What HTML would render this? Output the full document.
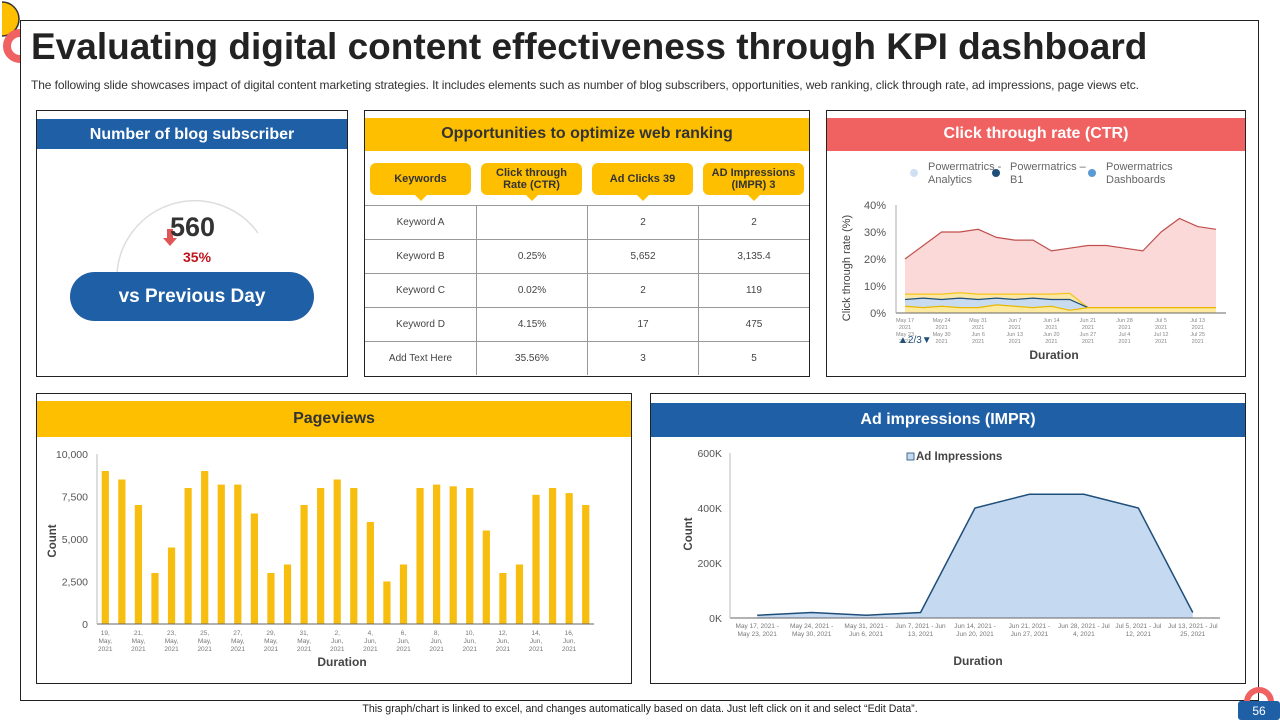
<!DOCTYPE html>
<html><head><meta charset="utf-8"><style>
*{box-sizing:border-box;margin:0;padding:0}
body{width:1280px;height:720px;overflow:hidden;background:#fff;font-family:"Liberation Sans",sans-serif;position:relative;color:#333}
.abs{position:absolute}
.panel{position:absolute;border:1px solid #222;background:#fff}
.hdr{position:absolute;left:0;right:0;height:32px;color:#fff;font-weight:bold;font-size:16px;text-align:center;line-height:32px}
.yel{background:#fdbf00;color:#333}
.blue{background:#1f5fa6}
.red{background:#f06262}
</style></head><body>
<div class="abs" style="left:20px;top:20px;width:1239px;height:681px;border:1px solid #222"></div>
<svg class="abs" style="left:0;top:0" width="40" height="70">
<path d="M0,2 A17,17 0 0 1 0,36 Z" fill="#fdbf00" transform="translate(2,0)"/>
<path d="M0,2 A17,17 0 0 1 0,36" fill="none" stroke="#333" stroke-width="1.5" transform="translate(2,0)"/>
<path d="M20,33 A13,13 0 0 0 20,59" fill="none" stroke="#f06262" stroke-width="8"/>
</svg>
<div class="abs" style="left:31px;top:26px;font-size:37px;font-weight:bold;color:#222;white-space:nowrap">Evaluating digital content effectiveness through KPI dashboard</div>
<div class="abs" style="left:31px;top:78px;font-size:12px;color:#333;white-space:nowrap;letter-spacing:-0.1px">The following slide showcases impact of digital content marketing strategies. It includes elements such as number of blog subscribers, opportunities, web ranking, click through rate, ad impressions, page views etc.</div>

<!-- Blog subscriber -->
<div class="panel" style="left:36px;top:110px;width:312px;height:267px">
<div class="hdr blue" style="top:8px;height:32px;border-bottom:2px solid #fff">Number of blog subscriber</div>
<svg class="abs" style="left:0;top:0" width="310" height="265">
<path d="M80,162 A78,78 0 0 1 221,122" fill="none" stroke="#ddd" stroke-width="1.5"/>
<path d="M130,127 v-9 h6 v9 h4 l-7,8 l-7,-8z" fill="#e05555"/>
</svg>
<div class="abs" style="left:133px;top:101px;font-size:27px;font-weight:bold;color:#333">560</div>
<div class="abs" style="left:146px;top:138px;font-size:14px;font-weight:bold;color:#c0141c">35%</div>
<div class="abs" style="left:33px;top:161px;width:244px;height:49px;border-radius:25px;background:#1f5fa6;color:#fff;font-size:19px;font-weight:bold;text-align:center;line-height:49px">vs Previous Day</div>
</div>

<!-- Opportunities table -->
<div class="panel" style="left:364px;top:110px;width:446px;height:267px">
<div class="hdr yel" style="top:7px;height:33px">Opportunities to optimize web ranking</div>
<div id="tbl"></div>
</div>

<!-- CTR -->
<div class="panel" style="left:826px;top:110px;width:420px;height:267px">
<div class="hdr red" style="top:7px;height:33px">Click through rate (CTR)</div>
<svg id="ctr" class="abs" style="left:-1px;top:-1px" width="420" height="267"></svg>
</div>

<!-- Pageviews -->
<div class="panel" style="left:36px;top:393px;width:596px;height:291px">
<div class="hdr yel" style="top:7px;height:36px;line-height:36px">Pageviews</div>
<svg id="pv" class="abs" style="left:-1px;top:-1px" width="596" height="291"></svg>
</div>

<!-- Ad impressions -->
<div class="panel" style="left:650px;top:393px;width:596px;height:291px">
<div class="hdr blue" style="top:9px;height:34px;line-height:34px">Ad impressions (IMPR)</div>
<svg id="ad" class="abs" style="left:-1px;top:-1px" width="596" height="291"></svg>
</div>

<div class="abs" style="left:0;width:1280px;top:703px;text-align:center;font-size:10.6px;color:#222">This graph/chart is linked to excel, and changes automatically based on data. Just left click on it and select “Edit Data”.</div>
<svg class="abs" style="left:1238px;top:683px" width="42" height="37">
<path d="M9,19 A12,12 0 0 1 33,19" fill="none" stroke="#f06262" stroke-width="6"/>
<rect x="0" y="18" width="42" height="19" rx="3" fill="#1f5fa6"/>
<text x="21" y="32" text-anchor="middle" font-size="12" fill="#fff" font-family="Liberation Sans">56</text>
</svg>

<script>
const NS='http://www.w3.org/2000/svg';
function mk(p,t,a,txt){const e=document.createElementNS(NS,t);for(const k in a)e.setAttribute(k,a[k]);if(txt!==undefined)e.textContent=txt;p.appendChild(e);return e;}

// ---- table ----
const tblHeaders=['Keywords','Click through Rate (CTR)','Ad Clicks 39','AD Impressions (IMPR) 3'];
const tblRows=[['Keyword A','','2','2'],['Keyword B','0.25%','5,652','3,135.4'],['Keyword C','0.02%','2','119'],['Keyword D','4.15%','17','475'],['Add Text Here','35.56%','3','5']];
const tbl=document.getElementById('tbl');
tblHeaders.forEach((h,i)=>{
  const d=document.createElement('div');
  d.className='abs';
  
  
  d.style.cssText=`left:${5+i*111}px;top:52px;width:101px;height:32px;background:#fdbf00;border-radius:6px;font-size:11px;font-weight:bold;color:#333;text-align:center;display:flex;align-items:center;justify-content:center;line-height:12px;padding:0 4px`;
  d.textContent=h;tbl.appendChild(d);
  const t=document.createElement('div');t.className='abs';
  
  
  t.style.cssText=`left:${50+i*111}px;top:84px;border-left:6px solid transparent;border-right:6px solid transparent;border-top:6px solid #fdbf00`;
  tbl.appendChild(t);
});
tblRows.forEach((r,ri)=>{
  r.forEach((c,ci)=>{
    const d=document.createElement('div');d.className='abs';
    
    
    d.style.cssText=`left:${ci*111}px;top:${94+ri*34}px;width:111px;height:34px;border-top:1px solid #999;${ci>0?'border-left:1px solid #999;':''}font-size:10px;color:#444;text-align:center;line-height:34px`;
    d.textContent=c;tbl.appendChild(d);
  });
});

// ---- CTR ----
const ctrLabels=['May 17, 2021 - May 23, 2021','May 24, 2021 - May 30, 2021','May 31, 2021 - Jun 6, 2021','Jun 7, 2021 - Jun 13, 2021','Jun 14, 2021 - Jun 20, 2021','Jun 21, 2021 - Jun 27, 2021','Jun 28, 2021 - Jul 4, 2021','Jul 5, 2021 - Jul 12, 2021','Jul 13, 2021 - Jul 25, 2021'];
const ctrTotal=[20,25,30,30,31,28,27,27,23,24,25,25,24,23,30,35,32,31];
const ctrBase=[2.5,2,2.5,2,2,3,2.5,2,2.5,1,2,2,2,2,2,2,2,2];
const ctrBlue=[2.5,3.5,2.5,3.5,3,2.5,2.5,3.5,2.5,4,0,0,0,0,0,0,0,0];
const ctrYellow=[2,1.5,2,2,2,1.5,2,1.5,2,2.3,0,0,0,0,0,0,0,0];
const ctrTicks=[0,10,20,30,40];
(function(){
  const s=document.getElementById('ctr');
  const x0=905,x1=1216,ox=826,oy=110;
  const X=i=>x0-ox+(x1-x0)*i/(ctrTotal.length-1);
  const Y=v=>313-oy-v*(108/40);
  const lg=[['#cfe0f2','Powermatrics -','Analytics',102],['#1f4e79','Powermatrics –','B1',184],['#5b9bd5','Powermatrics','Dashboards',280]];
  lg.forEach(l=>{const g=mk(s,'g',{});
    mk(g,'circle',{cx:l[3]-14,cy:63,r:4,fill:l[0]});
    mk(g,'text',{x:l[3],y:60,'font-size':11,fill:'#666'},l[1]);
    mk(g,'text',{x:l[3],y:73,'font-size':11,fill:'#666'},l[2]);});
  ctrTicks.forEach(t=>{const e=mk(s,'text',{x:60,y:Y(t)+4,'font-size':11,fill:'#555','text-anchor':'end'},t+'%');});
  const cum=[ctrBase,ctrBase.map((v,i)=>v+ctrBlue[i]),ctrBase.map((v,i)=>v+ctrBlue[i]+ctrYellow[i]),ctrTotal];
  const fills=['#fde9a0','#c9dcef','#fbe7a6','#fbd9d9'],strokes=['#e8b800','#1f4e79','#f5c518','#c0504d'];
  for(let k=3;k>=0;k--){
    const top=cum[k],bot=k?cum[k-1]:ctrTotal.map(()=>0);
    let d='M'+top.map((v,i)=>X(i)+','+Y(v)).join(' L');
    for(let i=bot.length-1;i>=0;i--)d+=' L'+X(i)+','+Y(bot[i]);
    const a=mk(s,'path',{d:d+'Z',fill:fills[k]});
    const l=mk(s,'polyline',{points:top.map((v,i)=>X(i)+','+Y(v)).join(' '),fill:'none',stroke:strokes[k],'stroke-width':1.2});
  }
  mk(s,'line',{x1:70,y1:Y(0),x2:400,y2:Y(0),stroke:'#666'});
  mk(s,'line',{x1:70,y1:Y(40),x2:70,y2:Y(0),stroke:'#aaa'});
  ctrLabels.forEach((lab,i)=>{
    const tx=mk(s,'text',{x:X(i*2),y:Y(0)+9,'font-size':5.5,fill:'#888','text-anchor':'middle'});
    lab.split(/, | - /).forEach((p,j)=>mk(tx,'tspan',{x:X(i*2),dy:j?7:0},p));});
  mk(s,'text',{x:72,y:233,'font-size':10,fill:'#1f4e79'},'▲2/3▼');
  const yt=mk(s,'text',{x:24,y:158,'font-size':11,fill:'#444','text-anchor':'middle',transform:'rotate(-90 24 158)'},'Click through rate (%)');
  const xt=mk(s,'text',{x:228,y:249,'font-size':12,'font-weight':'bold',fill:'#444','text-anchor':'middle'},'Duration');
})();

// ---- Pageviews ----
const pvDays=['19,May,2021','20,May,2021','21,May,2021','22,May,2021','23,May,2021','24,May,2021','25,May,2021','26,May,2021','27,May,2021','28,May,2021','29,May,2021','30,May,2021','31,May,2021','1,Jun,2021','2,Jun,2021','3,Jun,2021','4,Jun,2021','5,Jun,2021','6,Jun,2021','7,Jun,2021','8,Jun,2021','9,Jun,2021','10,Jun,2021','11,Jun,2021','12,Jun,2021','13,Jun,2021','14,Jun,2021','15,Jun,2021','16,Jun,2021','17,Jun,2021'];
const pvValues=[9000,8500,7000,3000,4500,8000,9000,8200,8200,6500,3000,3500,7000,8000,8500,8000,6000,2500,3500,8000,8200,8100,8000,5500,3000,3500,7600,8000,7700,7000];
const pvTicks=[0,2500,5000,7500,10000];
(function(){
  const s=document.getElementById('pv');const ox=36,oy=393;
  const ax0=97-ox,ax1=594-ox,bw=(ax1-ax0)/pvValues.length;
  const X=i=>ax0+bw*(i+0.5);const Y=v=>624-oy-v*(170/10000);
  pvTicks.forEach(t=>{const e=mk(s,'text',{x:52,y:Y(t)+4,'font-size':10.5,fill:'#555','text-anchor':'end'},t.toLocaleString('en-US'));});
  pvValues.forEach((v,i)=>{const r=mk(s,'rect',{x:X(i)-3.6,y:Y(v),width:7.2,height:Y(0)-Y(v),fill:'#f7bd0f'});});
  mk(s,'line',{x1:ax0,y1:Y(0),x2:ax1,y2:Y(0),stroke:'#666'});
  mk(s,'line',{x1:ax0,y1:Y(10000),x2:ax0,y2:Y(0),stroke:'#bbb'});
  pvDays.forEach((d,i)=>{if(i%2)return;const tx=mk(s,'text',{x:X(i),y:Y(0)+11,'font-size':6.5,fill:'#777','text-anchor':'middle'});
    d.split(',').forEach((p,j)=>mk(tx,'tspan',{x:X(i),dy:j?8:0},p+(j<2?',':'')));});
  const yt=mk(s,'text',{x:20,y:148,'font-size':11.5,'font-weight':'bold',fill:'#444','text-anchor':'middle',transform:'rotate(-90 20 148)'},'Count');
  const xt=mk(s,'text',{x:306,y:273,'font-size':12,'font-weight':'bold',fill:'#444','text-anchor':'middle'},'Duration');
})();

// ---- Ad impressions ----
const adWeekLines=[['May 17, 2021 -','May 23, 2021'],['May 24, 2021 -','May 30, 2021'],['May 31, 2021 -','Jun 6, 2021'],['Jun 7, 2021 - Jun','13, 2021'],['Jun 14, 2021 -','Jun 20, 2021'],['Jun 21, 2021 -','Jun 27, 2021'],['Jun 28, 2021 - Jul','4, 2021'],['Jul 5, 2021 - Jul','12, 2021'],['Jul 13, 2021 - Jul','25, 2021']];
const adValues=[10000,20000,10000,20000,400000,450000,450000,400000,20000];
const adTicks=[0,200000,400000,600000];
(function(){
  const s=document.getElementById('ad');const ox=650,oy=393;
  const ax0=730-ox,ax1=1220-ox,cw=(ax1-ax0)/adValues.length;
  const X=i=>ax0+cw*(i+0.5);const Y=v=>618-oy-v*(165/600000);
  adTicks.forEach(t=>{const e=mk(s,'text',{x:72,y:Y(t)+4,'font-size':10.5,fill:'#555','text-anchor':'end'},(t/1000)+'K');});
  const pts=adValues.map((v,i)=>X(i)+','+Y(v));
  const a=mk(s,'path',{d:'M'+X(0)+','+Y(0)+' L'+pts.join(' L')+' L'+X(adValues.length-1)+','+Y(0)+'Z',fill:'#c5daf1'});
  const l=mk(s,'polyline',{points:pts.join(' '),fill:'none',stroke:'#1f4e79','stroke-width':1.5});
  mk(s,'line',{x1:ax0,y1:Y(0),x2:ax1,y2:Y(0),stroke:'#666'});
  mk(s,'line',{x1:ax0,y1:Y(600000),x2:ax0,y2:Y(0),stroke:'#bbb'});
  adWeekLines.forEach((w,i)=>{const tx=mk(s,'text',{x:X(i),y:Y(0)+10,'font-size':6.5,fill:'#777','text-anchor':'middle'});
    w.forEach((p,j)=>mk(tx,'tspan',{x:X(i),dy:j?8:0},p));});
  const lg=mk(s,'g',{});
  mk(lg,'rect',{x:257,y:60,width:7,height:7,fill:'#c5daf1',stroke:'#1f4e79','stroke-width':0.8});
  mk(lg,'text',{x:266,y:67,'font-size':11.5,'font-weight':'bold',fill:'#444'},'Ad Impressions');
  const yt=mk(s,'text',{x:42,y:141,'font-size':11.5,'font-weight':'bold',fill:'#444','text-anchor':'middle',transform:'rotate(-90 42 141)'},'Count');
  const xt=mk(s,'text',{x:328,y:272,'font-size':12,'font-weight':'bold',fill:'#444','text-anchor':'middle'},'Duration');
})();
</script>
</body></html>
